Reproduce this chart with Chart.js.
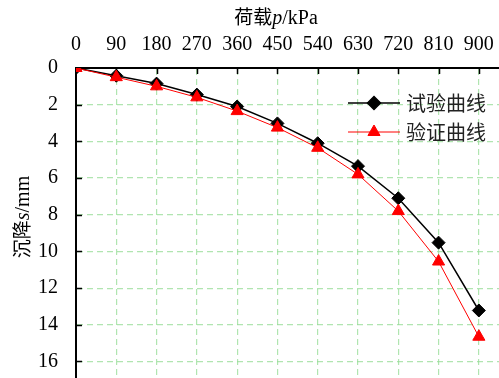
<!DOCTYPE html>
<html><head><meta charset="utf-8">
<script src="https://cdn.jsdelivr.net/npm/chart.js@4"></script>
<style>html,body{margin:0;padding:0;background:#fff;overflow:hidden;}#w{width:499px;height:378px;position:relative;}</style>
</head><body><div id="w"><canvas id="c"></canvas></div>
<script>
const loads = [0, 90, 180, 270, 360, 450, 540, 630, 720, 810, 900];
const testSettlement = [0, 0.42, 0.85, 1.45, 2.1, 3.02, 4.1, 5.35, 7.1, 9.52, 13.22];
const verifySettlement = [0, 0.5, 1.0, 1.6, 2.35, 3.25, 4.35, 5.8, 7.8, 10.55, 14.65];
const xTicks = [0, 90, 180, 270, 360, 450, 540, 630, 720, 810, 900];
const yTicks = [0, 2, 4, 6, 8, 10, 12, 14, 16];
const seriesNames = ['试验曲线', '验证曲线'];

const SERIF = '"Liberation Serif", "Times New Roman", serif';
const CJK = '"Noto Sans CJK SC", sans-serif';
const GRID = 'rgba(150,220,150,0.75)';

const extras = {
  id: 'extras',
  beforeDatasetsDraw(chart) {
    const ctx = chart.ctx, x = chart.scales.x, y = chart.scales.y, a = chart.chartArea;
    ctx.save();
    ctx.strokeStyle = '#000'; ctx.lineWidth = 1.5;
    ctx.beginPath();
    xTicks.forEach(v => { if (v === 0) return; const px = Math.round(x.getPixelForValue(v)) + 0.5; ctx.moveTo(px, a.top); ctx.lineTo(px, a.top + 6); });
    yTicks.forEach(v => { if (v === 0) return; const py = Math.round(y.getPixelForValue(v)) + 0.5; ctx.moveTo(a.left, py); ctx.lineTo(a.left + 6, py); });
    ctx.stroke();
    ctx.restore();
  },
  afterDraw(chart) {
    const ctx = chart.ctx;
    ctx.save();
    ctx.fillStyle = '#000';
    ctx.textBaseline = 'alphabetic';
    const parts = [['荷载', '19px ' + CJK], ['p', 'italic 20px ' + SERIF], ['/kPa', '20px ' + SERIF]];
    let total = 0;
    parts.forEach(p => { ctx.font = p[1]; total += ctx.measureText(p[0]).width; });
    let sx = 276 - total / 2;
    parts.forEach(p => { ctx.font = p[1]; ctx.fillText(p[0], sx, 24); sx += ctx.measureText(p[0]).width; });
    ctx.translate(29, 217);
    ctx.rotate(-Math.PI / 2);
    const yparts = [['沉降', '19px ' + CJK], ['s', 'italic 20px ' + SERIF], ['/mm', '20px ' + SERIF]];
    total = 0;
    yparts.forEach(p => { ctx.font = p[1]; total += ctx.measureText(p[0]).width; });
    sx = -total / 2;
    yparts.forEach(p => { ctx.font = p[1]; ctx.fillText(p[0], sx, 0); sx += ctx.measureText(p[0]).width; });
    ctx.setTransform(1, 0, 0, 1, 0, 0);
    const rows = [
      { name: seriesNames[0], color: '#000', lw: 1.5, style: 'rectRot', y: 103 },
      { name: seriesNames[1], color: '#ff0000', lw: 1, style: 'triangle', y: 132 }
    ];
    rows.forEach(r => {
      ctx.strokeStyle = r.color; ctx.lineWidth = r.lw;
      ctx.beginPath(); ctx.moveTo(348, r.y); ctx.lineTo(400, r.y); ctx.stroke();
      ctx.fillStyle = r.color;
      Chart.helpers.drawPoint(ctx, { pointStyle: r.style, radius: r.style === 'triangle' ? 7 : 6.5, borderWidth: 1 }, 374, r.y);
      ctx.fillStyle = '#222';
      ctx.font = '20px ' + CJK;
      ctx.textBaseline = 'middle';
      ctx.fillText(r.name, 406, r.y);
    });
    ctx.restore();
  }
};

new Chart(document.getElementById('c'), {
  type: 'line',
  data: {
    datasets: [
      {
        label: seriesNames[0],
        data: loads.map((v, i) => ({ x: v, y: testSettlement[i] })),
        borderColor: '#000', backgroundColor: '#000', borderWidth: 1.5,
        pointStyle: 'rectRot', pointRadius: 6.5, pointBorderWidth: 1, order: 2
      },
      {
        label: seriesNames[1],
        data: loads.map((v, i) => ({ x: v, y: verifySettlement[i] })),
        borderColor: '#ff0000', backgroundColor: '#ff0000', borderWidth: 1,
        pointStyle: 'triangle', pointRadius: 7, pointBorderWidth: 1, order: 1
      }
    ]
  },
  options: {
    responsive: true, maintainAspectRatio: false, animation: false,
    layout: { padding: 0, autoPadding: false },
    plugins: { legend: { display: false }, tooltip: { enabled: false } },
    elements: { line: { tension: 0 } },
    scales: {
      x: {
        type: 'linear', position: 'top', min: 0, max: 945,
        afterBuildTicks: s => { s.ticks = xTicks.map(v => ({ value: v })); },
        afterFit: s => { s.height = 68; s.paddingLeft = 0; s.paddingRight = 0; },
        ticks: { color: '#000', font: { family: SERIF, size: 20 }, padding: 11, maxRotation: 0, autoSkip: false },
        grid: { drawTicks: false, color: c => c.tick && c.tick.value === 0 ? 'rgba(0,0,0,0)' : GRID, lineWidth: 1.2 },
        border: { display: true, color: '#000', width: 2, dash: [6, 4] }
      },
      y: {
        type: 'linear', reverse: true, min: 0, max: 16.9,
        afterBuildTicks: s => { s.ticks = yTicks.map(v => ({ value: v })); },
        afterFit: s => { s.width = 76; s.paddingTop = 0; s.paddingBottom = 0; },
        ticks: { color: '#000', font: { family: SERIF, size: 20 }, padding: 18, autoSkip: false },
        grid: { drawTicks: false, color: c => c.tick && c.tick.value === 0 ? 'rgba(0,0,0,0)' : GRID, lineWidth: 1.2 },
        border: { display: true, color: '#000', width: 2, dash: [6, 4] }
      }
    }
  },
  plugins: [extras]
});
</script>
</body></html>
